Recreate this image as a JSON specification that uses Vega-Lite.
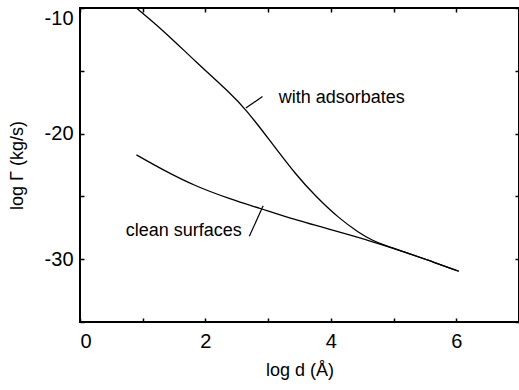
{
  "$schema": "https://vega.github.io/schema/vega-lite/v6.json",
  "width": 439,
  "height": 314,
  "autosize": {"type": "none"},
  "padding": {"left": 80, "top": 8, "right": 0, "bottom": 68},
  "config": {
    "font": "Liberation Sans",
    "view": {"stroke": "black", "strokeWidth": 2},
    "axis": {
      "domain": false,
      "grid": false,
      "tickColor": "black",
      "tickWidth": 1.5,
      "tickSize": -4,
      "labelColor": "black",
      "labelFontSize": 20,
      "labelFont": "Liberation Sans",
      "titleFont": "Liberation Sans",
      "titleFontSize": 18,
      "titleFontWeight": "normal",
      "titleColor": "black"
    }
  },
  "datasets": {
    "curves": [
      {"series": "with adsorbates", "d": 0.9, "g": -10.0},
      {"series": "with adsorbates", "d": 1.32, "g": -11.75},
      {"series": "with adsorbates", "d": 1.85, "g": -14.3},
      {"series": "with adsorbates", "d": 2.38, "g": -16.7},
      {"series": "with adsorbates", "d": 2.65, "g": -18.1},
      {"series": "with adsorbates", "d": 3.02, "g": -20.5},
      {"series": "with adsorbates", "d": 3.44, "g": -23.27},
      {"series": "with adsorbates", "d": 3.76, "g": -25.0},
      {"series": "with adsorbates", "d": 4.13, "g": -26.75},
      {"series": "with adsorbates", "d": 4.45, "g": -27.9},
      {"series": "with adsorbates", "d": 4.66, "g": -28.5},
      {"series": "with adsorbates", "d": 4.87, "g": -28.92},
      {"series": "with adsorbates", "d": 5.2, "g": -29.47},
      {"series": "with adsorbates", "d": 5.6, "g": -30.16},
      {"series": "with adsorbates", "d": 6.04, "g": -30.96},
      {"series": "clean surfaces", "d": 0.9, "g": -21.69},
      {"series": "clean surfaces", "d": 1.32, "g": -22.88},
      {"series": "clean surfaces", "d": 1.85, "g": -24.21},
      {"series": "clean surfaces", "d": 2.38, "g": -25.18},
      {"series": "clean surfaces", "d": 2.9, "g": -26.0},
      {"series": "clean surfaces", "d": 3.33, "g": -26.72},
      {"series": "clean surfaces", "d": 4.0, "g": -27.65},
      {"series": "clean surfaces", "d": 4.66, "g": -28.58},
      {"series": "clean surfaces", "d": 5.2, "g": -29.47},
      {"series": "clean surfaces", "d": 5.6, "g": -30.16},
      {"series": "clean surfaces", "d": 6.04, "g": -30.96}
    ],
    "labels": [
      {"text": "with adsorbates", "d": 3.17, "g": -17.18},
      {"text": "clean surfaces", "d": 0.73, "g": -27.78}
    ],
    "leaders": [
      {"d": 2.645, "g": -17.97, "d2": 2.91, "g2": -17.05},
      {"d": 2.7, "g": -28.18, "d2": 2.92, "g2": -25.75}
    ]
  },
  "layer": [
    {
      "data": {"name": "curves"},
      "mark": {"type": "line", "color": "black", "strokeWidth": 1.3, "interpolate": "basis", "clip": true},
      "encoding": {
        "x": {
          "field": "d", "type": "quantitative",
          "scale": {"domain": [0, 7], "nice": false, "zero": false},
          "axis": {
            "orient": "bottom",
            "title": "log d (Å)",
            "values": [0, 1, 2, 3, 4, 5, 6, 7],
            "labelExpr": "datum.value % 2 === 0 ? '' + datum.value : ''",
            "labelPadding": 13,
            "titlePadding": 10
          }
        },
        "y": {
          "field": "g", "type": "quantitative",
          "scale": {"domain": [-35, -10], "nice": false, "zero": false},
          "axis": {
            "orient": "left",
            "title": "log Γ (kg/s)",
            "values": [-35, -30, -25, -20, -15, -10],
            "labelExpr": "datum.value % 10 === 0 ? '' + datum.value : ''",
            "labelFlush": true,
            "labelPadding": 11,
            "titlePadding": 18
          }
        },
        "detail": {"field": "series", "type": "nominal"}
      }
    },
    {
      "data": {"name": "leaders"},
      "mark": {"type": "rule", "color": "black", "strokeWidth": 1.2},
      "encoding": {
        "x": {"field": "d", "type": "quantitative", "axis": {"orient": "top", "title": null, "labels": false, "values": [0, 1, 2, 3, 4, 5, 6, 7]}},
        "y": {"field": "g", "type": "quantitative", "axis": {"orient": "right", "title": null, "labels": false, "values": [-35, -30, -25, -20, -15, -10]}},
        "x2": {"field": "d2"},
        "y2": {"field": "g2"}
      }
    },
    {
      "data": {"name": "labels"},
      "mark": {"type": "text", "align": "left", "baseline": "middle", "fontSize": 18, "font": "Liberation Sans", "color": "black"},
      "encoding": {
        "x": {"field": "d", "type": "quantitative", "axis": null},
        "y": {"field": "g", "type": "quantitative", "axis": null},
        "text": {"field": "text"}
      }
    }
  ]
}
